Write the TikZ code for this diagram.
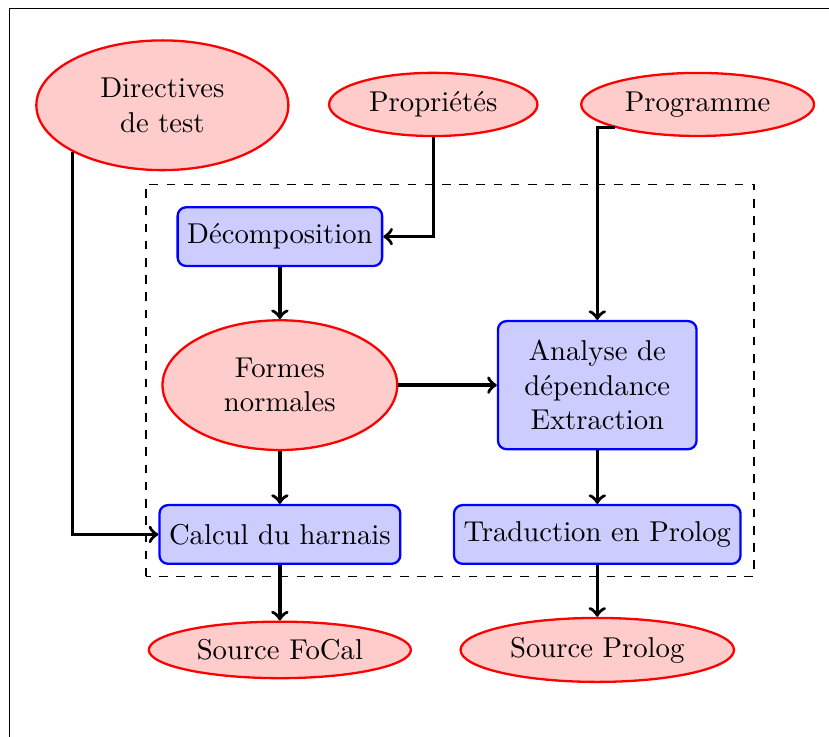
\documentclass[tikz,border=0pt]{standalone}
\usepackage{tikz}
\usetikzlibrary{positioning,shapes.geometric,calc}

\begin{document}
\begin{tikzpicture}[>=to, on grid,
  donnee/.style={draw=red, thick, fill=red!20, ellipse},
  etape/.style={draw=blue, thick, fill=blue!20, rounded corners=3pt, minimum height=0.72cm},
  lien/.style={->, very thick}]
  \useasboundingbox (0,0) rectangle (10.16,-9.03);
  \draw (0.12,-9.03) -- (0.12,-0.1) -- (10.16,-0.1);

  \node[etape] (decomp) at (3.43,-2.9) {Décomposition};
  \node[donnee, text width=1.95cm, minimum height=1.59cm, align=center, above left=1.61cm and 1.44cm of decomp] (directives) {Directives\\de test};
  \node[donnee, above right=1.62cm and 1.88cm of decomp] (prop) {Propriétés};
  \node[donnee, right=3.24cm of prop] (prog) {Programme};
  \node[donnee, text width=1.8cm, minimum height=1.59cm, align=center, below=1.82cm of decomp] (formes) {Formes\\normales};
  \node[etape, text width=2.2cm, minimum height=1.57cm, align=center, right=3.89cm of formes] (analyse) {Analyse de\\dépendance\\Extraction};
  \node[etape, below=1.83cm of formes] (calcul) {Calcul du harnais};
  \node[etape, below=1.83cm of analyse] (trad) {Traduction en Prolog};
  \node[donnee, below=1.415cm of calcul] (srcfocal) {Source FoCal};
  \node[donnee, below=1.415cm of trad] (srcprolog) {Source Prolog};

  \draw[dashed] ($(calcul.south west)+(-0.15,-0.14)$) rectangle ($(trad.east |- decomp.north)+(0.15,0.27)$);

  \draw[lien] (directives.south west) |- (calcul.west);
  \draw[lien] (prop.south) |- (decomp.east);
  \draw[lien] (prog.south west) -| (analyse.north);
  \draw[lien] (decomp) -- (formes);
  \draw[lien] (formes) -- (analyse);
  \draw[lien] (formes) -- (calcul);
  \draw[lien] (analyse) -- (trad);
  \draw[lien] (calcul) -- (srcfocal);
  \draw[lien] (trad) -- (srcprolog);
\end{tikzpicture}
\end{document}
